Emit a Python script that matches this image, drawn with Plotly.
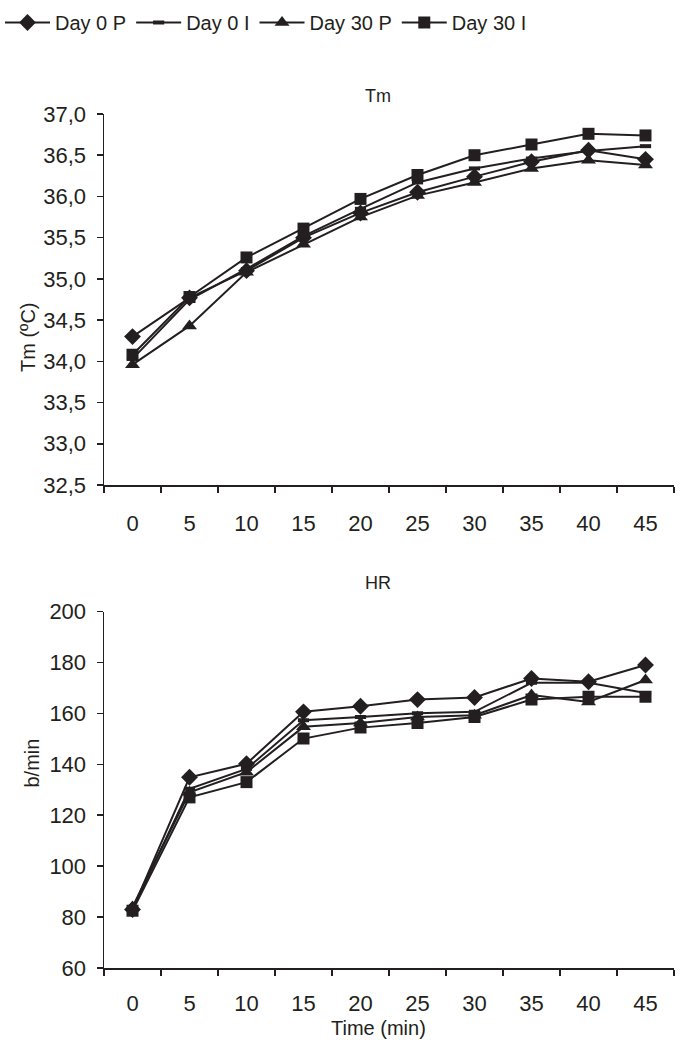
import plotly.graph_objects as go

time_labels = ["0", "5", "10", "15", "20", "25", "30", "35", "40", "45"]
series_names = ["Day 0 P", "Day 0 I", "Day 30 P", "Day 30 I"]

tm_day0_p = [34.30, 34.77, 35.10, 35.50, 35.80, 36.05, 36.24, 36.42, 36.56, 36.45]
tm_day0_i = [34.03, 34.75, 35.12, 35.52, 35.85, 36.17, 36.34, 36.46, 36.55, 36.61]
tm_day30_p = [33.96, 34.43, 35.08, 35.42, 35.75, 36.01, 36.17, 36.34, 36.44, 36.38]
tm_day30_i = [34.08, 34.78, 35.26, 35.61, 35.97, 36.26, 36.50, 36.63, 36.76, 36.74]

hr_day0_p = [83.0, 134.9, 140.2, 160.6, 162.8, 165.4, 166.2, 173.7, 172.4, 179.0]
hr_day0_i = [83.0, 130.4, 138.2, 157.3, 158.6, 160.0, 160.6, 172.0, 172.0, 168.0]
hr_day30_p = [84.0, 129.0, 136.9, 154.7, 156.2, 158.6, 159.3, 167.2, 164.5, 173.1]
hr_day30_i = [82.5, 127.0, 133.0, 150.1, 154.4, 156.2, 158.6, 165.4, 166.5, 166.5]

tm_title = "Tm"
hr_title = "HR"
tm_ylabel = "Tm (ºC)"
hr_ylabel = "b/min"
x_label = "Time (min)"

INK = "#231f20"
FONT = "Liberation Sans, Arial, Helvetica, sans-serif"
W, H = 685, 1061

markers = [
    dict(symbol="diamond", size=13, color=INK),
    dict(symbol="line-ew", size=8, color=INK, line=dict(width=4, color=INK)),
    dict(symbol="triangle-up", size=13, color=INK),
    dict(symbol="square", size=12, color=INK),
]

fig = go.Figure()
tm_data = [tm_day0_p, tm_day0_i, tm_day30_p, tm_day30_i]
hr_data = [hr_day0_p, hr_day0_i, hr_day30_p, hr_day30_i]
for name, mk, ys in zip(series_names, markers, tm_data):
    fig.add_trace(go.Scatter(x=time_labels, y=ys, name=name, mode="lines+markers",
                             line=dict(color=INK, width=2), marker=mk,
                             xaxis="x", yaxis="y", showlegend=True))
for name, mk, ys in zip(series_names, markers, hr_data):
    fig.add_trace(go.Scatter(x=time_labels, y=ys, name=name, mode="lines+markers",
                             line=dict(color=INK, width=2), marker=mk,
                             xaxis="x2", yaxis="y2", showlegend=False))

def px_x(p):
    return p / W

def px_y(p):
    return 1 - p / H

xdom = [px_x(104), px_x(674)]
axis_common = dict(showline=True, linecolor=INK, linewidth=1.5, showgrid=False,
                   zeroline=False, ticks="outside", tickcolor=INK, tickwidth=1.5,
                   ticklen=6, automargin=False,
                   tickfont=dict(family=FONT, size=22, color=INK))

fig.update_layout(
    template="none",
    width=W, height=H,
    margin=dict(l=0, r=0, t=0, b=0, autoexpand=False),
    paper_bgcolor="white", plot_bgcolor="white",
    separators=",.",
    font=dict(family=FONT, color=INK),
    showlegend=True,
    legend=dict(orientation="h", x=0, xanchor="left", y=px_y(3), yanchor="top",
                font=dict(family=FONT, size=20, color=INK), itemwidth=45,
                tracegroupgap=0, bgcolor="rgba(0,0,0,0)"),
    xaxis=dict(domain=xdom, anchor="y", type="category", range=[-0.5, 9.5],
               tickson="boundaries", ticklabelstandoff=18, **axis_common),
    yaxis=dict(domain=[px_y(485), px_y(114)], anchor="x", range=[32.5, 37.0],
               dtick=0.5, tick0=32.5, tickformat=".1f", ticklabelstandoff=6, **axis_common),
    xaxis2=dict(domain=xdom, anchor="y2", type="category", range=[-0.5, 9.5],
                tickson="boundaries", ticklabelstandoff=15, **axis_common),
    yaxis2=dict(domain=[px_y(968), px_y(611.5)], anchor="x2", range=[60, 200],
                dtick=20, tick0=60, ticklabelstandoff=6, **axis_common),
)

ann_font = dict(family=FONT, size=18, color=INK)
fig.add_annotation(text=tm_title, x=px_x(378), y=px_y(84), xref="paper", yref="paper",
                   showarrow=False, font=ann_font)
fig.add_annotation(text=hr_title, x=px_x(378), y=px_y(583), xref="paper", yref="paper",
                   showarrow=False, font=ann_font)
fig.add_annotation(text=tm_ylabel, x=px_x(15), y=px_y(300), xref="paper", yref="paper",
                   showarrow=False, textangle=-90, font=dict(family=FONT, size=20, color=INK))
fig.add_annotation(text=hr_ylabel, x=px_x(18), y=px_y(790), xref="paper", yref="paper",
                   showarrow=False, textangle=-90, font=dict(family=FONT, size=20, color=INK))
fig.add_annotation(text=x_label, x=px_x(378), y=px_y(1041), xref="paper", yref="paper",
                   showarrow=False, font=dict(family=FONT, size=20, color=INK))

fig.write_html(
    "out.html",
    config={"responsive": False, "displayModeBar": False, "staticPlot": True},
    post_script="document.body.style.margin='0';document.body.style.overflow='hidden';",
)
